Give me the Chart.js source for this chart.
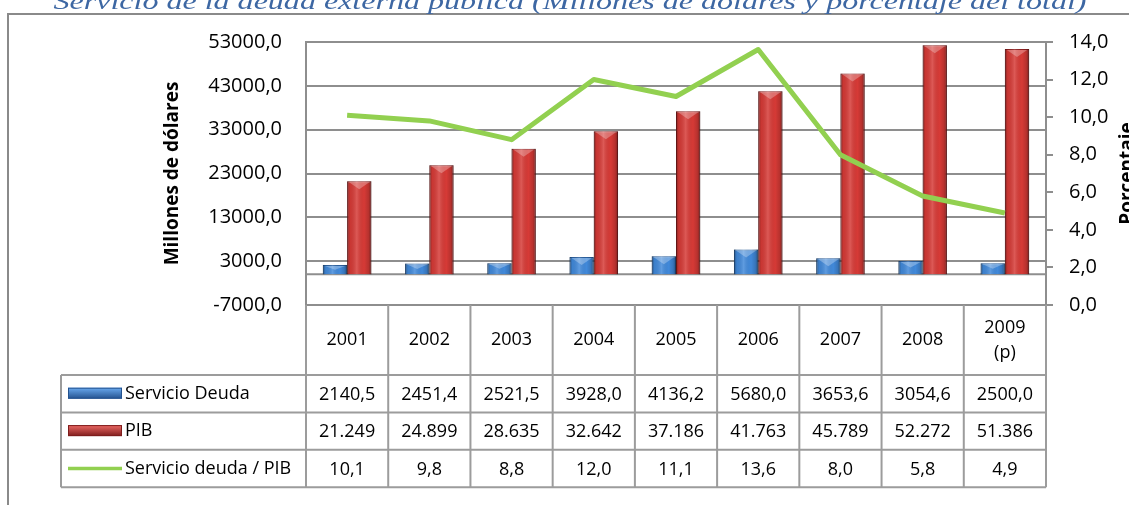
<!DOCTYPE html>
<html lang="es">
<head>
<meta charset="UTF-8" />
<title>Servicio de la deuda externa pública</title>
<script src="https://cdn.jsdelivr.net/npm/chart.js"></script>
<style>
  html, body { margin: 0; padding: 0; background: #fff; }
  #wrap { width: 1129px; height: 505px; overflow: hidden; }
</style>
</head>
<body>
<div id="wrap"><canvas id="deudaChart" width="1129" height="505"></canvas></div>
<script>
// --- data ---
const years = ['2001', '2002', '2003', '2004', '2005', '2006', '2007', '2008', ['2009', '(p)']];
const servicioDeuda = [2140.5, 2451.4, 2521.5, 3928.0, 4136.2, 5680.0, 3653.6, 3054.6, 2500.0];
const pib = [21249, 24899, 28635, 32642, 37186, 41763, 45789, 52272, 51386];
const deudaPib = [10.1, 9.8, 8.8, 12.0, 11.1, 13.6, 8.0, 5.8, 4.9];
const leftTicks = [-7000, 3000, 13000, 23000, 33000, 43000, 53000];
const rightTicks = [0, 2, 4, 6, 8, 10, 12, 14];
const seriesNames = ['Servicio Deuda', 'PIB', 'Servicio deuda / PIB'];
const titleText = 'Servicio de la deuda externa pública (Millones de dólares y porcentaje del total)';
const leftTitle = 'Millones de dólares';
const rightTitle = 'Porcentaje';

const FONT = '"Open Sans", "Noto Sans", sans-serif';
const GRID = '#8e8e8e';
const TABLE_LINE = '#9c9c9c';

const fmtDec = v => v.toFixed(1).replace('.', ',');
const fmtMiles = v => String(Math.round(v)).replace(/\B(?=(\d{3})+(?!\d))/g, '.');

// Excel-ish bevel shading on top of the flat bars
function shadeBar(ctx, el) {
  const p = el.getProps(['x', 'y', 'base', 'width'], true);
  const l = p.x - p.width / 2;
  const top = Math.min(p.y, p.base);
  const h = Math.abs(p.base - p.y);
  const g = ctx.createLinearGradient(l, 0, l + p.width, 0);
  g.addColorStop(0, 'rgba(0,0,0,0.38)');
  g.addColorStop(0.12, 'rgba(0,0,0,0.06)');
  g.addColorStop(0.4, 'rgba(255,255,255,0.16)');
  g.addColorStop(0.7, 'rgba(0,0,0,0)');
  g.addColorStop(0.88, 'rgba(0,0,0,0.14)');
  g.addColorStop(1, 'rgba(0,0,0,0.42)');
  ctx.fillStyle = g;
  ctx.fillRect(l, top, p.width, h);
  ctx.fillStyle = 'rgba(255,255,255,0.28)';
  ctx.beginPath();
  ctx.moveTo(l + 2, top + 1);
  ctx.lineTo(l + p.width - 2, top + 1);
  ctx.lineTo(p.x, top + Math.min(8, h / 2));
  ctx.closePath();
  ctx.fill();
}

function swatch(ctx, x, y, w, h, light, dark) {
  const g = ctx.createLinearGradient(0, y, 0, y + h);
  g.addColorStop(0, light);
  g.addColorStop(1, dark);
  ctx.fillStyle = g;
  ctx.fillRect(x, y, w, h);
  ctx.strokeStyle = dark;
  ctx.lineWidth = 1;
  ctx.strokeRect(x + 0.5, y + 0.5, w - 1, h - 1);
}

const extras = {
  id: 'extras',
  beforeDraw(chart) {
    const ctx = chart.ctx;
    ctx.save();
    // frame
    ctx.strokeStyle = '#8a8a8a';
    ctx.lineWidth = 2;
    ctx.beginPath();
    ctx.moveTo(8, 505);
    ctx.lineTo(8, 14);
    ctx.lineTo(1129, 14);
    ctx.stroke();
    // title (clipped at top, as in the original)
    ctx.font = 'italic 24px "Liberation Serif", serif';
    const w = ctx.measureText(titleText).width;
    ctx.translate(570, 9);
    ctx.scale(1033 / w, 1);
    ctx.textAlign = 'center';
    ctx.textBaseline = 'alphabetic';
    ctx.fillStyle = '#3d67a3';
    ctx.fillText(titleText, 0, 0);
    ctx.restore();
  },
  beforeDatasetsDraw(chart) {
    const { ctx, chartArea, scales } = chart;
    const y0 = scales.y.getPixelForValue(0);
    ctx.save();
    ctx.strokeStyle = GRID;
    ctx.lineWidth = 2;
    ctx.beginPath();
    ctx.moveTo(chartArea.left, y0);
    ctx.lineTo(chartArea.right, y0);
    ctx.stroke();
    ctx.restore();
  },
  afterDatasetDraw(chart, args) {
    const meta = args.meta;
    if (meta.type !== 'bar') return;
    const ctx = chart.ctx;
    ctx.save();
    meta.data.forEach(el => shadeBar(ctx, el));
    ctx.restore();
  },
  afterDraw(chart) {
    const { ctx, chartArea, scales } = chart;
    const xs = scales.x;
    const step = xs.getPixelForValue(1) - xs.getPixelForValue(0);
    const x0 = xs.getPixelForValue(0) - step / 2;
    const headTop = chartArea.bottom;
    const headBot = headTop + 70;
    const rowH = 37.4;
    const tableBot = headBot + rowH * 3;
    const legLeft = 61;

    ctx.save();
    // axis titles
    ctx.fillStyle = '#000';
    ctx.font = 'bold 19px ' + FONT;
    ctx.textAlign = 'center';
    ctx.textBaseline = 'middle';
    const cy = (chartArea.top + chartArea.bottom) / 2;
    ctx.save();
    ctx.translate(173, cy);
    ctx.rotate(-Math.PI / 2);
    ctx.fillText(leftTitle, 0, 0);
    ctx.restore();
    ctx.save();
    ctx.translate(1128, cy);
    ctx.rotate(-Math.PI / 2);
    ctx.fillText(rightTitle, 0, 0);
    ctx.restore();

    // table grid
    ctx.strokeStyle = TABLE_LINE;
    ctx.lineWidth = 2;
    ctx.beginPath();
    for (let i = 0; i <= years.length; i++) {
      const vx = x0 + i * step;
      ctx.moveTo(vx, headTop);
      ctx.lineTo(vx, tableBot);
    }
    ctx.moveTo(legLeft, headBot);
    ctx.lineTo(legLeft, tableBot);
    for (let r = 0; r <= 3; r++) {
      const hy = headBot + r * rowH;
      ctx.moveTo(legLeft, hy);
      ctx.lineTo(chartArea.right, hy);
    }
    ctx.stroke();

    // header years
    ctx.fillStyle = '#000';
    ctx.font = '18px ' + FONT;
    years.forEach((yr, i) => {
      const cx = xs.getPixelForValue(i);
      if (Array.isArray(yr)) {
        ctx.fillText(yr[0], cx, headTop + 23);
        ctx.fillText(yr[1], cx, headTop + 48);
      } else {
        ctx.fillText(yr, cx, headTop + 35);
      }
    });

    // rows
    const rows = [
      servicioDeuda.map(fmtDec),
      pib.map(fmtMiles),
      deudaPib.map(fmtDec)
    ];
    ctx.font = '18px ' + FONT;
    rows.forEach((vals, r) => {
      const ry = headBot + r * rowH + rowH / 2;
      vals.forEach((v, i) => ctx.fillText(v, xs.getPixelForValue(i), ry + 1));
    });

    // legend keys
    ctx.textAlign = 'left';
    seriesNames.forEach((name, r) => {
      const ry = headBot + r * rowH + rowH / 2;
      if (r === 0) swatch(ctx, 68, ry - 6, 54, 11, '#6aaaf0', '#23528f');
      if (r === 1) swatch(ctx, 68, ry - 6, 54, 11, '#ee6a66', '#7e1c1c');
      if (r === 2) {
        ctx.strokeStyle = '#92d050';
        ctx.lineWidth = 3.5;
        ctx.beginPath();
        ctx.moveTo(68, ry);
        ctx.lineTo(122, ry);
        ctx.stroke();
      }
      ctx.fillStyle = '#000';
      ctx.fillText(name, 125, ry);
    });
    ctx.restore();
  }
};

new Chart(document.getElementById('deudaChart'), {
  type: 'bar',
  data: {
    labels: years,
    datasets: [
      {
        type: 'line',
        label: seriesNames[2],
        data: deudaPib,
        yAxisID: 'y1',
        borderColor: '#92d050',
        borderWidth: 5,
        pointRadius: 0,
        borderJoinStyle: 'round',
        order: 0
      },
      {
        label: seriesNames[0],
        data: servicioDeuda,
        yAxisID: 'y',
        backgroundColor: '#4189da',
        borderColor: '#2a5f9e',
        borderWidth: 1,
        categoryPercentage: 0.59,
        barPercentage: 1,
        order: 1
      },
      {
        label: seriesNames[1],
        data: pib,
        yAxisID: 'y',
        backgroundColor: '#d63a36',
        borderColor: '#8f2020',
        borderWidth: 1,
        categoryPercentage: 0.59,
        barPercentage: 1,
        order: 1
      }
    ]
  },
  options: {
    responsive: false,
    animation: false,
    devicePixelRatio: 1,
    layout: { padding: { top: 42, right: 0, bottom: 200, left: 0 } },
    plugins: {
      legend: { display: false },
      tooltip: { enabled: false },
      title: { display: false }
    },
    scales: {
      x: { display: false },
      y: {
        position: 'left',
        min: -7000,
        max: 53000,
        afterBuildTicks: s => { s.ticks = leftTicks.map(v => ({ value: v })); },
        afterFit: s => { s.width = 306; },
        grid: { color: GRID, lineWidth: 2, drawTicks: false },
        border: { display: true, color: GRID, width: 2 },
        ticks: {
          padding: 24,
          color: '#000',
          font: { family: FONT, size: 20 },
          callback: v => fmtDec(v)
        }
      },
      y1: {
        position: 'right',
        min: 0,
        max: 14,
        afterBuildTicks: s => { s.ticks = rightTicks.map(v => ({ value: v })); },
        afterFit: s => { s.width = 83; },
        grid: { drawOnChartArea: false, color: GRID, lineWidth: 2, tickLength: 7 },
        border: { display: true, color: GRID, width: 2 },
        ticks: {
          padding: 16,
          color: '#000',
          font: { family: FONT, size: 20 },
          callback: v => fmtDec(v)
        }
      }
    }
  },
  plugins: [extras]
});
</script>
</body>
</html>
